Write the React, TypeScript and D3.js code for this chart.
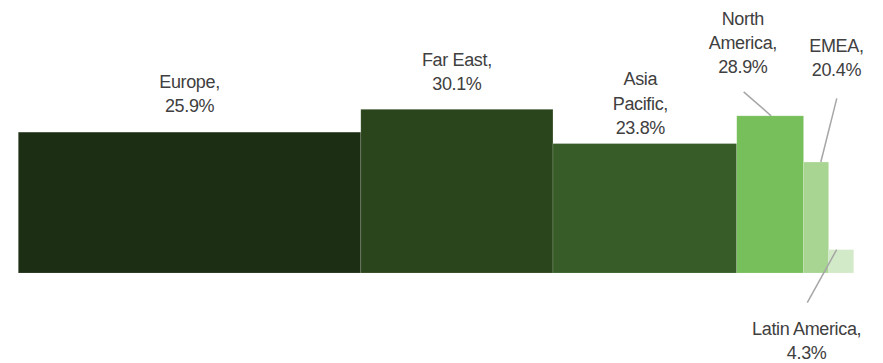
import React from "react";
import * as d3 from "d3";

const regions = ["Europe", "Far East", "Asia Pacific", "North America", "EMEA", "Latin America"];
const growth = [25.9, 30.1, 23.8, 28.9, 20.4, 4.3];
const share = [41, 23, 22, 8, 3, 3];
const colors = ["#1c2e13", "#2a451b", "#375c27", "#77bf5a", "#a8d592", "#d3eac8"];
// label text lines
const labelLines = [
  ["Europe,", "25.9%"],
  ["Far East,", "30.1%"],
  ["Asia", "Pacific,", "23.8%"],
  ["North", "America,", "28.9%"],
  ["EMEA,", "20.4%"],
  ["Latin America,", "4.3%"],
];

const W = 883;
const H = 363;
const LINE = 24.3;

export default function App() {
  const total = d3.sum(share);
  const x = d3.scaleLinear().domain([0, total]).range([18.3, 853.7]);
  const y = d3.scaleLinear().domain([0, 30.1]).range([273, 109.3]);
  const starts = share.map((_, i) => d3.sum(share.slice(0, i)));

  const bars = regions.map((r, i) => {
    const x0 = x(starts[i]);
    const x1 = x(starts[i] + share[i]);
    return { r, i, x0, x1, cx: (x0 + x1) / 2, top: y(growth[i]) };
  });

  // label placement: dx from bar center, baseline of last line relative to bar top (above) or first line (below)
  const placement = [
    { dx: 0, gap: 20, below: false },
    { dx: 0, gap: 19.3, below: false },
    { dx: -4.5, gap: 9.5, below: false },
    { dx: -27.3, gap: 42.7, below: false },
    { dx: 20.3, gap: 86, below: false },
    { dx: -34.5, gap: -85.3, below: true },
  ];
  const leaders: { [k: number]: [number, number, number, number] } = {
    3: [-26.5, -24, 1, 0],
    4: [20.7, -63.7, 4.7, 0],
    5: [-33.9, 53, -4.5, 0],
  };

  return (
    <svg width={W} height={H} style={{ position: "absolute", left: 0, top: 0, display: "block" }}>
      <rect width={W} height={H} fill="#ffffff" />
      {bars.map((b) => (
        <rect
          key={b.r}
          x={b.x0}
          y={b.top}
          width={b.x1 - b.x0}
          height={y(0) - b.top}
          fill={colors[b.i]}
          stroke="#ffffff"
          strokeOpacity={0.2}
          strokeWidth={0.75}
        />
      ))}
      {bars.map((b) => {
        const l = leaders[b.i];
        if (!l) return null;
        return (
          <line
            key={"l" + b.r}
            x1={b.cx + l[0]}
            y1={b.top + l[1]}
            x2={b.cx + l[2]}
            y2={b.top + l[3]}
            stroke="#a6a6a6"
            strokeWidth={1.5}
          />
        );
      })}
      {bars.map((b) => {
        const p = placement[b.i];
        const lines = labelLines[b.i];
        const cx = b.cx + p.dx;
        const firstBaseline = p.below
          ? b.top - p.gap
          : b.top - p.gap - (lines.length - 1) * LINE;
        return (
          <text
            key={"t" + b.r}
            textAnchor="middle"
            fontFamily="'Liberation Sans', Arial, sans-serif"
            fontSize={18}
            letterSpacing={-0.35}
            fill="#404040"
          >
            {lines.map((s, k) => (
              <tspan key={k} x={cx} y={firstBaseline + k * LINE}>
                {s}
              </tspan>
            ))}
          </text>
        );
      })}
    </svg>
  );
}
